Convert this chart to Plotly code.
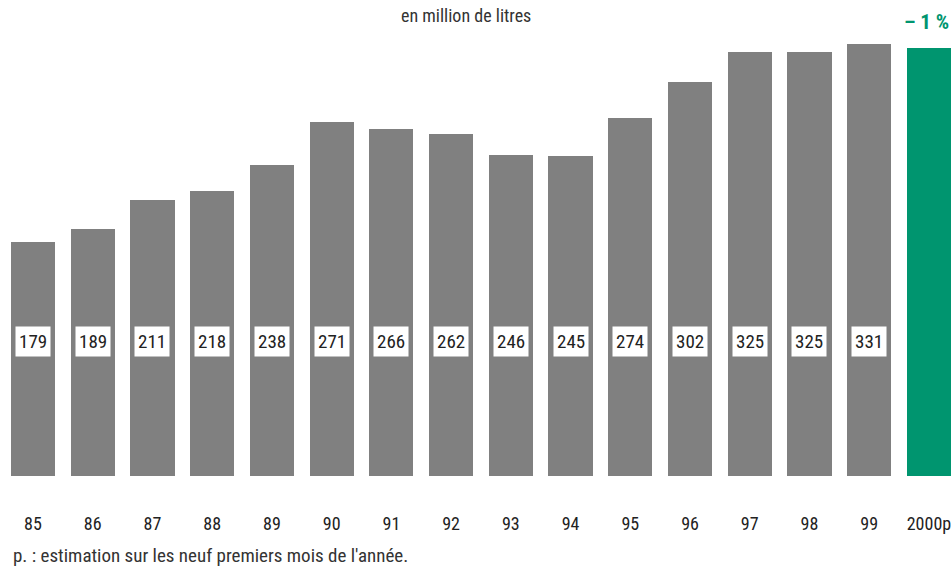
import plotly.graph_objects as go

years = ["85", "86", "87", "88", "89", "90", "91", "92", "93", "94", "95", "96", "97", "98", "99", "2000p"]
values = [179, 189, 211, 218, 238, 271, 266, 262, 246, 245, 274, 302, 325, 325, 331, 328]
labels = ["179", "189", "211", "218", "238", "271", "266", "262", "246", "245", "274", "302", "325", "325", "331", ""]
colors = ["#808080"] * 15 + ["#00956f"]

FONT = "Liberation Sans Narrow, Roboto Condensed, Arial Narrow, sans-serif"

fig = go.Figure()
fig.add_trace(go.Bar(x=list(range(len(years))), y=values, marker_color=colors,
                     marker_line_width=0, width=0.74, hoverinfo="skip"))

for i, t in enumerate(labels):
    if t:
        fig.add_annotation(x=i, y=103, text=t, showarrow=False, bgcolor="white",
                           font=dict(family=FONT, size=19, color="#222"),
                           borderpad=3, xanchor="center", yanchor="middle")

fig.add_annotation(xref="paper", yref="paper", x=0.49, y=1.0, yshift=-15,
                   text="en million de litres", showarrow=False,
                   font=dict(family=FONT, size=18, color="#333"), yanchor="middle")
fig.add_annotation(xref="paper", yref="paper", x=0.947, y=1.0, yshift=-22,
                   text="<b>– 1 %</b>", showarrow=False, xanchor="left",
                   font=dict(family=FONT, size=21, color="#00956f"), yanchor="middle")
fig.add_annotation(xref="paper", yref="paper", x=0.012, y=0, yshift=-79,
                   text="p. : estimation sur les neuf premiers mois de l'année.", showarrow=False,
                   xanchor="left", yanchor="middle",
                   font=dict(family=FONT, size=19, color="#333"))

fig.update_layout(
    width=952, height=567,
    margin=dict(l=0, r=0, t=0, b=91),
    paper_bgcolor="white", plot_bgcolor="white",
    showlegend=False, bargap=0,
    xaxis=dict(range=[-0.5525, 15.386], tickmode="array", tickvals=list(range(len(years))),
               ticktext=years, showgrid=False, zeroline=False, showline=False, ticks="",
               tickfont=dict(family=FONT, size=18, color="#222"), ticklabelstandoff=35),
    yaxis=dict(range=[0, 364.5], visible=False, showgrid=False, zeroline=False),
)
fig.write_html("out.html")
